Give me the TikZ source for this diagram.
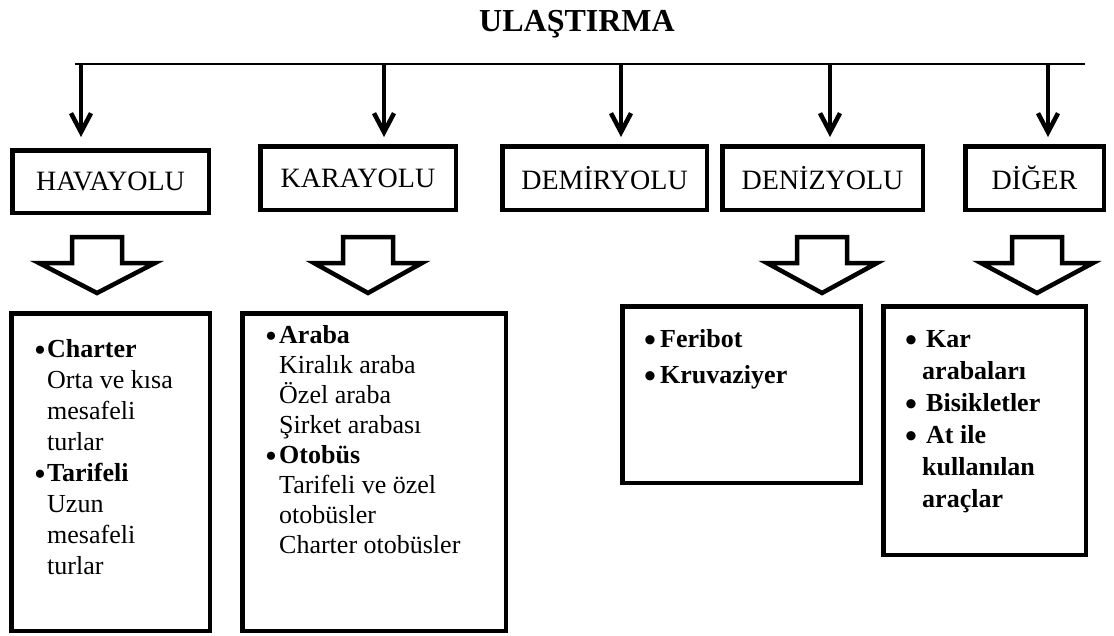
\documentclass[tikz,border=0pt]{standalone}
\usepackage{fontspec}
\setmainfont{Liberation Serif}
\usetikzlibrary{arrows.meta,positioning}

\newcommand{\listbul}[1][12pt]{\makebox[#1][l]{\raisebox{-4pt}[0pt][0pt]{\fontsize{34}{31}\selectfont\textbullet}}}
\newcommand{\listind}[1][12pt]{\hspace*{#1}}

\begin{document}
\begin{tikzpicture}[x=1pt,y=-1pt]
\tikzstyle{every node}+=[inner sep=0pt]
\tikzstyle{headbox}=[draw=black,line width=4.5pt,font=\fontsize{28}{33}\selectfont]
\tikzstyle{listbox}=[draw=black,line width=4.5pt,anchor=north west]
\tikzstyle{listtxt}=[font=\fontsize{26}{31}\selectfont]
\tikzstyle{downarr}=[line width=4.5pt,-{Straight Barb[length=19pt,width=20pt]}]
\tikzstyle{fatarr}=[draw=black,line width=4.5pt,fill=white]
\useasboundingbox (0,0) rectangle (1114,635);

\node[font=\fontsize{32}{38}\selectfont\bfseries,anchor=base] (title) at (577,31) {ULAŞTIRMA};

\coordinate (ls) at (75,64);
\coordinate (le) at (1085,64);
\draw [black,line width=2.5pt] (ls) -- (le);

\node[headbox,minimum width=196.5pt,minimum height=62.5pt] (hava) at (110.5,181.5) {HAVAYOLU};
\node[headbox,minimum width=195.5pt,minimum height=63.5pt] (kara) at (358,178) {KARAYOLU};
\node[headbox,minimum width=204.5pt,minimum height=63.5pt] (demir) at (604.5,178) {DEMİRYOLU};
\node[headbox,minimum width=200.5pt,minimum height=63.5pt] (deniz) at (822.5,178) {DENİZYOLU};
\node[headbox,minimum width=138.5pt,minimum height=63.5pt] (diger) at (1034.5,178) {DİĞER};

\coordinate (a1) at (81,64);
\coordinate (a2) at (384,64);
\coordinate (a3) at (621,64);
\coordinate (a4) at (830,64);
\coordinate (a5) at (1048,64);
\draw [downarr,shorten >=11pt] (a1) -- (a1 |- hava.north);
\draw [downarr,shorten >=7pt] (a2) -- (a2 |- kara.north);
\draw [downarr,shorten >=7pt] (a3) -- (a3 |- demir.north);
\draw [downarr,shorten >=7pt] (a4) -- (a4 |- deniz.north);
\draw [downarr,shorten >=7pt] (a5) -- (a5 |- diger.north);

\foreach \cx/\hw in {97/58,368/54,822/55,1037/56}
  \draw [fatarr] (\cx-25,237) -- (\cx+25,237) -- (\cx+25,263) -- (\cx+\hw,263)
    -- (\cx,293) -- (\cx-\hw,263) -- (\cx-25,263) -- cycle;

\node[listbox,minimum width=198.5pt,minimum height=317.5pt] (havalist) at (9,311) {};
\node[listbox,minimum width=263.5pt,minimum height=317.5pt] (karalist) at (240,311) {};
\node[listbox,minimum width=238.5pt,minimum height=176.5pt] (denizlist) at (620,304) {};
\node[listbox,minimum width=202.5pt,minimum height=248.5pt] (digerlist) at (881,304) {};

\node[listtxt,below right=46pt and 25pt of havalist.north west,anchor=base west] (havatxt)
  {\parbox[t]{170pt}{\listbul[13pt]\textbf{Charter}\\
  \listind[13pt]Orta ve kısa\\
  \listind[13pt]mesafeli\\
  \listind[13pt]turlar\\
  \listbul[13pt]\textbf{Tarifeli}\\
  \listind[13pt]Uzun\\
  \listind[13pt]mesafeli\\
  \listind[13pt]turlar}};

\node[listtxt,below right=32pt and 25pt of karalist.north west,anchor=base west] (karatxt)
  {\fontsize{26}{30}\selectfont\parbox[t]{230pt}{\listbul[14pt]\textbf{Araba}\\
  \listind[14pt]Kiralık araba\\
  \listind[14pt]Özel araba\\
  \listind[14pt]Şirket arabası\\
  \listbul[14pt]\textbf{Otobüs}\\
  \listind[14pt]Tarifeli ve özel\\
  \listind[14pt]otobüsler\\
  \listind[14pt]Charter otobüsler}};

\node[listtxt,below right=43pt and 24pt of denizlist.north west,anchor=base west] (deniztxt)
  {\fontsize{26}{36}\selectfont\bfseries\parbox[t]{200pt}{\listbul[16pt]Feribot\\
  \listbul[16pt]Kruvaziyer}};

\node[listtxt,below right=43pt and 24pt of digerlist.north west,anchor=base west] (digertxt)
  {\fontsize{26}{32}\selectfont\bfseries\parbox[t]{170pt}{\listbul[21pt]Kar\\
  \listind[17pt]arabaları\\
  \listbul[21pt]Bisikletler\\
  \listbul[21pt]At ile\\
  \listind[17pt]kullanılan\\
  \listind[17pt]araçlar}};
\end{tikzpicture}
\end{document}
